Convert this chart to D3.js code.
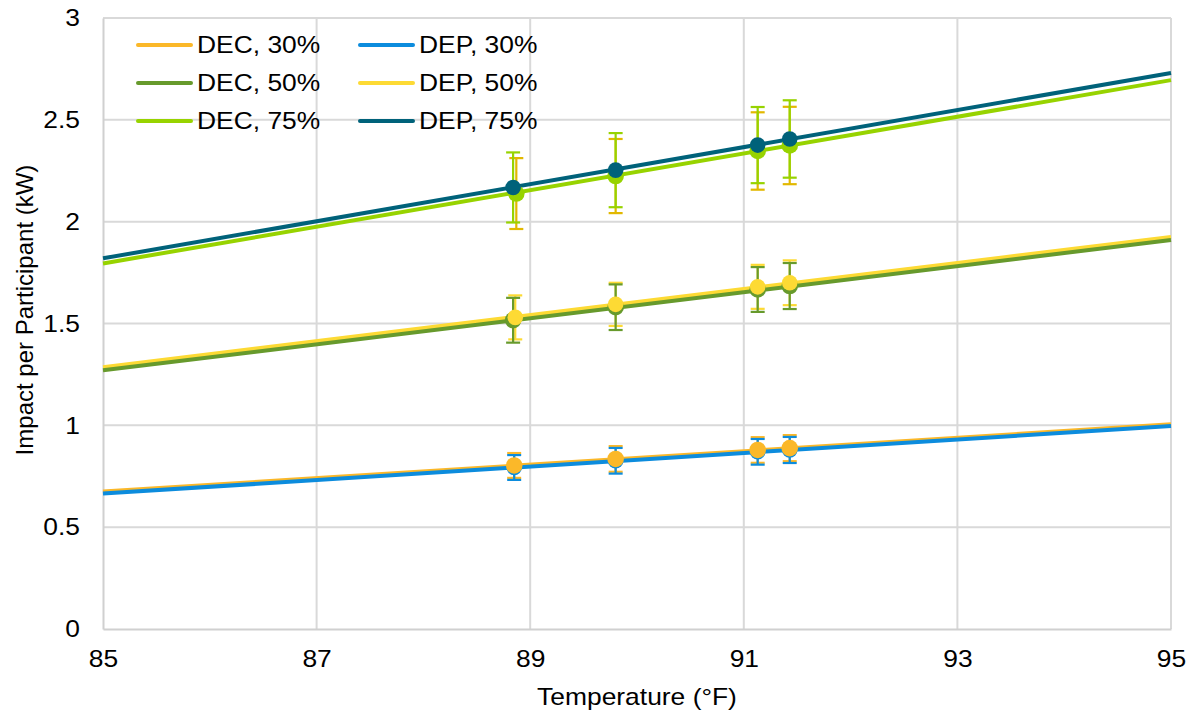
<!DOCTYPE html>
<html>
<head>
<meta charset="utf-8">
<script src="https://cdn.jsdelivr.net/npm/d3@7"></script>
<style>
    body { margin: 0; background: #fff; }
    svg text { font-family: "Liberation Sans", Arial, sans-serif; fill: #000; }
</style>
</head>
<body>
<div id="chart"></div>
<script>
// series, in legend order (row by row)
var seriesNames = ['DEC, 30%', 'DEP, 30%', 'DEC, 50%', 'DEP, 50%', 'DEC, 75%', 'DEP, 75%'];
var seriesColors = ['#FBB829', '#0C8CDD', '#679A2C', '#FDDA34', '#97D300', '#00627A'];
var errorColors = ['#FBB829', '#0C8CDD', '#679A2C', '#FDDA34', '#E2B800', '#97D300'];

var temps = [
    [88.85, 89.80, 91.13, 91.43],
    [88.85, 89.80, 91.13, 91.43],
    [88.84, 89.80, 91.13, 91.43],
    [88.86, 89.80, 91.13, 91.43],
    [88.87, 89.80, 91.13, 91.43],
    [88.84, 89.80, 91.13, 91.43]
];
var impacts = [
    [0.803, 0.835, 0.879, 0.888],
    [0.793, 0.826, 0.870, 0.879],
    [1.516, 1.580, 1.667, 1.684],
    [1.530, 1.594, 1.680, 1.700],
    [2.138, 2.224, 2.347, 2.374],
    [2.168, 2.253, 2.376, 2.406]
];
var errors = [
    [0.061, 0.063, 0.063, 0.064],
    [0.061, 0.063, 0.063, 0.064],
    [0.110, 0.112, 0.110, 0.113],
    [0.108, 0.106, 0.108, 0.110],
    [0.174, 0.182, 0.190, 0.190],
    [0.172, 0.182, 0.187, 0.190]
];
// linear trend lines, value at 85 °F and at 95 °F
var trendStart = [0.675, 0.665, 1.270, 1.285, 1.795, 1.820];
var trendEnd = [1.005, 0.997, 1.910, 1.925, 2.695, 2.730];

var xTicks = [85, 87, 89, 91, 93, 95];
var yTicks = [0, 0.5, 1, 1.5, 2, 2.5, 3];

// draw order so the overlaps look like the original
var lineOrder = [0, 1, 3, 2, 4, 5];
var markerOrder = [1, 0, 2, 3, 4, 5];

var width = 1192, height = 715;
var margin = { top: 18, right: 21, bottom: 86, left: 103 };
var stretch = 1.1; // the original's lettering is a bit wider than Arial

var svg = d3.select('#chart').append('svg')
    .attr('width', width)
    .attr('height', height);

var x = d3.scaleLinear().domain([85, 95]).range([margin.left, width - margin.right]);
var y = d3.scaleLinear().domain([0, 3]).range([height - margin.bottom, margin.top]);

// gridlines
svg.append('g').selectAll('line')
    .data(yTicks.slice(1))
    .enter().append('line')
    .attr('x1', x(85)).attr('x2', x(95))
    .attr('y1', function (d) { return y(d); })
    .attr('y2', function (d) { return y(d); })
    .attr('stroke', '#D9D9D9')
    .attr('stroke-width', 2);

svg.append('g').selectAll('line')
    .data(xTicks.slice(1))
    .enter().append('line')
    .attr('x1', function (d) { return x(d); })
    .attr('x2', function (d) { return x(d); })
    .attr('y1', y(0)).attr('y2', y(3))
    .attr('stroke', '#D9D9D9')
    .attr('stroke-width', 2);

// axes
var xAxis = svg.append('g')
    .attr('transform', 'translate(0,' + y(0) + ')')
    .call(d3.axisBottom(x).tickValues(xTicks).tickSize(0).tickPadding(21));
var yAxis = svg.append('g')
    .attr('transform', 'translate(' + x(85) + ',0)')
    .call(d3.axisLeft(y).tickValues(yTicks).tickSize(0).tickPadding(23).tickFormat(d3.format('')));

[xAxis, yAxis].forEach(function (a) {
    a.select('.domain').attr('stroke', '#D0D0D0').attr('stroke-width', 2);
    a.selectAll('text').style('font-size', '24px').attr('fill', '#000').classed('wide', true);
});
xAxis.selectAll('text').attr('dy', '0.71em');

svg.append('text')
    .attr('class', 'wide')
    .attr('x', (x(85) + x(95)) / 2)
    .attr('y', 705)
    .attr('text-anchor', 'middle')
    .style('font-size', '24px')
    .text('Temperature (°F)');

svg.append('text')
    .attr('transform', 'translate(33,' + 310 + ') rotate(-90)')
    .attr('text-anchor', 'middle')
    .style('font-size', '24px')
    .text('Impact per Participant (kW)');

// trend lines
var plot = svg.append('g');
lineOrder.forEach(function (i) {
    plot.append('line')
        .attr('x1', x(85)).attr('y1', y(trendStart[i]))
        .attr('x2', x(95)).attr('y2', y(trendEnd[i]))
        .attr('stroke', seriesColors[i])
        .attr('stroke-width', 4);
});

// error bars
var capHalf = 7;
lineOrder.forEach(function (i) {
    var g = plot.append('g').attr('stroke', errorColors[i]).attr('stroke-width', 2.2);
    temps[i].forEach(function (t, j) {
        var cx = x(t);
        var top = y(impacts[i][j] + errors[i][j]);
        var bot = y(impacts[i][j] - errors[i][j]);
        g.append('line').attr('x1', cx).attr('x2', cx).attr('y1', top).attr('y2', bot);
        g.append('line').attr('x1', cx - capHalf).attr('x2', cx + capHalf).attr('y1', top).attr('y2', top);
        g.append('line').attr('x1', cx - capHalf).attr('x2', cx + capHalf).attr('y1', bot).attr('y2', bot);
    });
});

// markers
markerOrder.forEach(function (i) {
    plot.append('g').selectAll('circle')
        .data(temps[i])
        .enter().append('circle')
        .attr('cx', function (d) { return x(d); })
        .attr('cy', function (d, j) { return y(impacts[i][j]); })
        .attr('r', i % 2 === 0 ? 8.3 : 7.8)
        .attr('fill', seriesColors[i]);
});

// legend, two columns
var legend = svg.append('g').selectAll('g')
    .data(seriesNames)
    .enter().append('g')
    .attr('transform', function (d, i) {
        return 'translate(' + (138 + (i % 2) * 222) + ',' + (45 + Math.floor(i / 2) * 38) + ')';
    });

legend.append('line')
    .attr('x1', 0).attr('x2', 53)
    .attr('stroke', function (d, i) { return seriesColors[i]; })
    .attr('stroke-width', 4)
    .attr('stroke-linecap', 'round');

legend.append('text')
    .attr('class', 'wide')
    .attr('x', 59)
    .attr('dy', '0.35em')
    .style('font-size', '24px')
    .text(function (d) { return d; });

// widen horizontal text a little
svg.selectAll('text.wide').each(function () {
    var len = this.getComputedTextLength();
    d3.select(this)
        .attr('textLength', len * stretch)
        .attr('lengthAdjust', 'spacingAndGlyphs');
});
</script>
</body>
</html>
